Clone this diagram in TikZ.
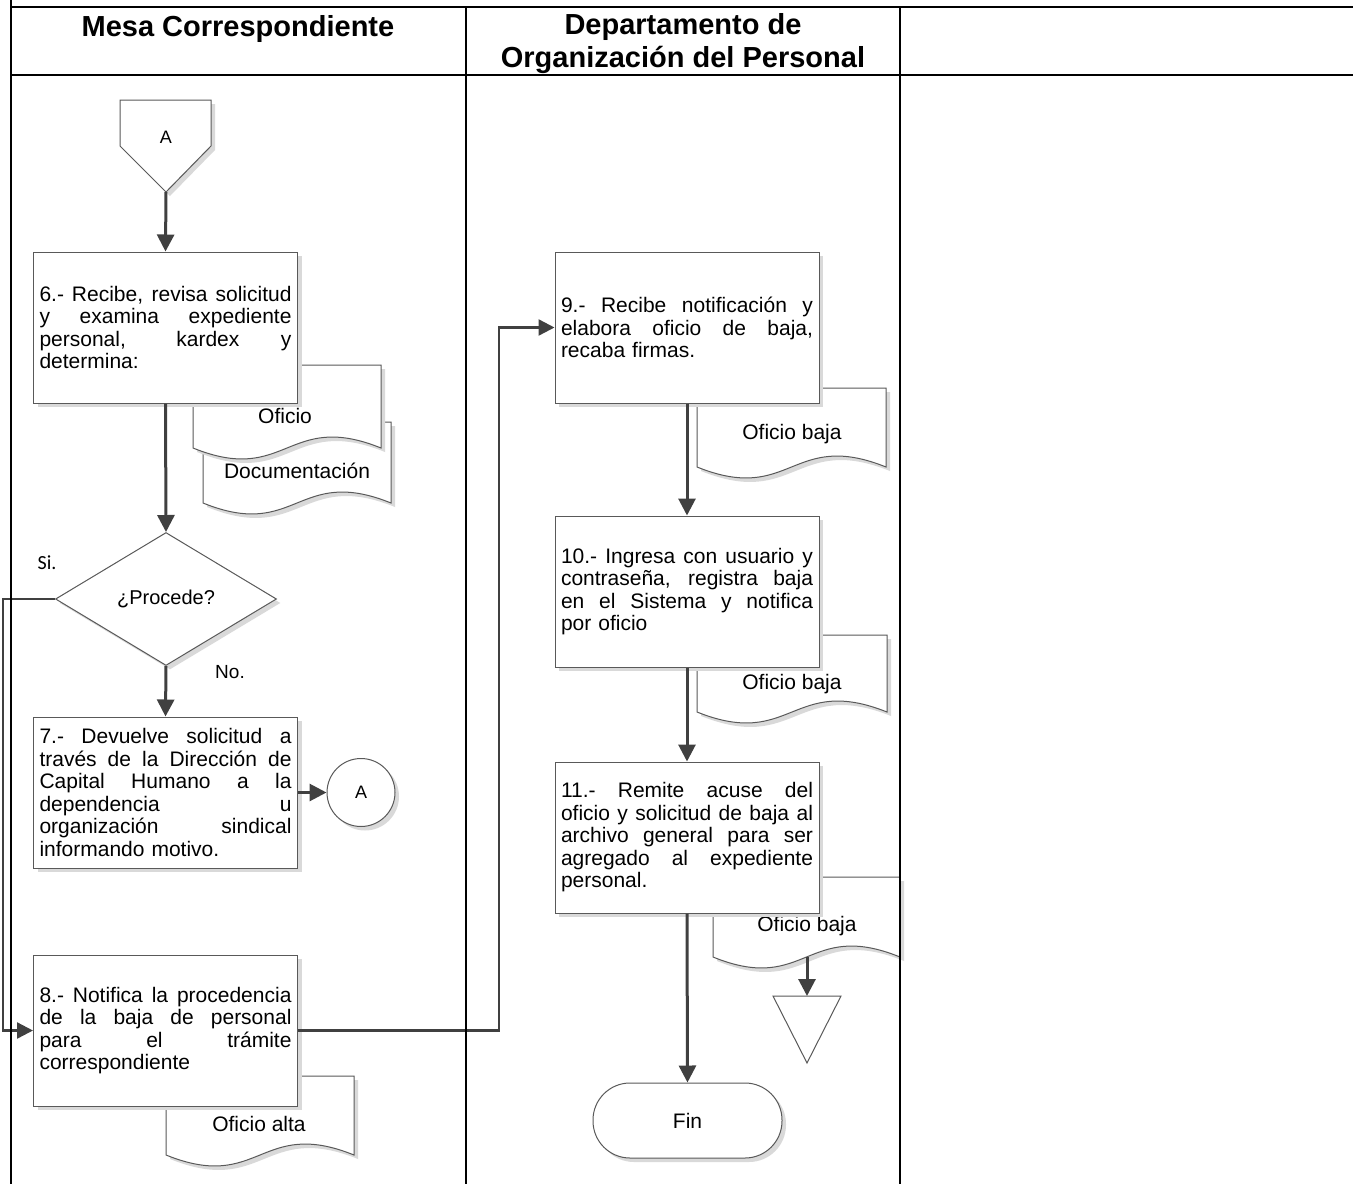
\documentclass[tikz,border=0pt]{standalone}
\usepackage{fontspec}
\setmainfont{Liberation Sans}
\newfontfamily\calfont{Carlito}
\usetikzlibrary{arrows.meta,shadows,shapes.geometric}
\newcommand\Jst[1]{{\spaceskip=0pt\xspaceskip=0pt\makebox[252pt][s]{#1}}}
\newcommand\DocPath[4]{(#1,#2) -- (#3,#2) -- (#3,#4) .. controls ({(#1+#3)/2},{#4-38}) and ({(#1+#3)/2},{#4+38}) .. (#1,#4) -- cycle}
\tikzset{
  lane/.style={line width=2.8pt, black},
  shadowed/.style={drop shadow={shadow xshift=4pt,shadow yshift=-4pt,fill=black!15,opacity=1}},
  outl/.style={draw=black!65, line width=1pt, fill=white},
  proc/.style={outl, shadowed, rectangle, minimum width=264pt, minimum height=151pt, inner sep=0pt,
    text width=252pt, align=left, font=\fontsize{21}{22.5}\selectfont},
  docst/.style={outl, shadowed},
  doctext/.style={font=\fontsize{21}{22.5}\selectfont, inner sep=0pt},
  arr/.style={draw=black!75, line width=3pt, -{Triangle[length=17pt,width=17pt]}},
  conn/.style={draw=black!75, line width=2.4pt},
  connarr/.style={draw=black!75, line width=2.4pt, -{Triangle[length=16pt,width=16pt]}},
  head/.style={font=\fontsize{29}{33}\selectfont\bfseries, align=center, inner sep=0pt},
}
\begin{document}
\begin{tikzpicture}[x=1pt,y=-1pt]
\useasboundingbox (0,0) rectangle (1353,1184);

% headers
\node[head] (h1) at (238,29) {Mesa Correspondiente};
\node[head] (h2) at (683,44) {Departamento de\\Organización del Personal};

% off-page connector A
\draw[outl, shadowed] (120,100) -- (211,100) -- (211,146) -- (166,192) -- (120,146) -- cycle;
\node[font=\fontsize{18}{20}\selectfont, inner sep=0pt] (pA) at (166,137) {A};
\coordinate (pAtip) at (166,192);

% documents behind box 6
\draw[docst] \DocPath{203}{422}{391}{503};
\node[doctext] (d2) at (297,471) {Documentación};
\draw[docst] \DocPath{193}{365}{381}{448};
\node[doctext] (d1) at (285,416) {Oficio};

\node[proc] (b6) at (165.5,327.5) {\Jst{6.- Recibe, revisa solicitud}\\\Jst{y examina expediente}\\\Jst{personal, kardex y}\\determina:};

% decision
\node[outl, shadowed, diamond, minimum width=221pt, minimum height=133pt, inner sep=0pt,
      font=\fontsize{20}{22}\selectfont] (dia) at (166,599) {¿Procede?};
\node[font=\calfont\fontsize{20}{22}\selectfont, inner sep=0pt] (si) at (47,563) {Si.};
\node[font=\fontsize{19}{21}\selectfont, inner sep=0pt] (no) at (230,672) {No.};

\node[proc] (b7) at (165.5,792.5) {\Jst{7.- Devuelve solicitud a}\\\Jst{través de la Dirección de}\\\Jst{Capital Humano a la}\\\Jst{dependencia u}\\\Jst{organización sindical}\\informando motivo.};
\node[outl, shadowed, circle, minimum size=68pt, inner sep=0pt, font=\fontsize{18}{20}\selectfont] (cA) at (361,792.5) {A};

\draw[docst] \DocPath{166}{1076}{354}{1155};
\node[doctext] (d3) at (259,1124) {Oficio alta};
\node[proc] (b8) at (165.5,1030.5) {\Jst{8.- Notifica la procedencia}\\\Jst{de la baja de personal}\\\Jst{para el trámite}\\correspondiente};

% right lane
\draw[docst] \DocPath{697}{388}{886}{467};
\node[doctext] (d4) at (792,434) {Oficio baja};
\node[proc] (b9) at (687,327.5) {\Jst{9.- Recibe notificación y}\\\Jst{elabora oficio de baja,}\\recaba firmas.};

\draw[docst] \DocPath{697}{635}{887}{712};
\node[doctext] (d5) at (792,684) {Oficio baja};
\node[proc] (b10) at (687,591.5) {\Jst{10.- Ingresa con usuario y}\\\Jst{contraseña, registra baja}\\\Jst{en el Sistema y notifica}\\por oficio};

\draw[docst] \DocPath{713}{877}{900}{957};
\node[doctext] (d6) at (807,926) {Oficio baja};
\coordinate (d6bot) at (807,957);
\node[proc] (b11) at (687,837.5) {\Jst{11.- Remite acuse del}\\\Jst{oficio y solicitud de baja al}\\\Jst{archivo general para ser}\\\Jst{agregado al expediente}\\personal.};

\draw[outl] (773,996) -- (841,996) -- (807,1063) -- cycle;
\coordinate (tritop) at (807,996);

\node[outl, shadowed, rectangle, rounded corners=37pt, minimum width=189pt, minimum height=75pt,
      inner sep=0pt, font=\fontsize{21}{22.5}\selectfont] (fin) at (687.5,1120.5) {Fin};

% connectors
\draw[arr] (pAtip) -- (b6.north);
\draw[arr] (b6.south) -- (dia.north);
\draw[arr] (dia.south) -- (b7.north);
\draw[arr] (b7.east) -- (cA.west);
\coordinate (siX) at (3,800);
\draw[conn] (dia.west) -| (siX);
\draw[connarr] (siX) |- (b8.west);
\coordinate (xr) at (499,700);
\draw[conn] (b8.east) -| (xr);
\draw[connarr] (xr) |- (b9.west);
\draw[arr] (b9.south) -- (b10.north);
\draw[arr] (b10.south) -- (b11.north);
\draw[arr] (b11.south) -- (fin.north);
\draw[arr] (d6bot) -- (tritop);

% table lines
\draw[lane] (11,0) -- (11,1184);
\draw[lane] (11,7) -- (1353,7);
\draw[lane] (11,75) -- (1353,75);
\draw[lane] (466,7) -- (466,1184);
\draw[lane] (900,7) -- (900,1184);
\end{tikzpicture}
\end{document}
